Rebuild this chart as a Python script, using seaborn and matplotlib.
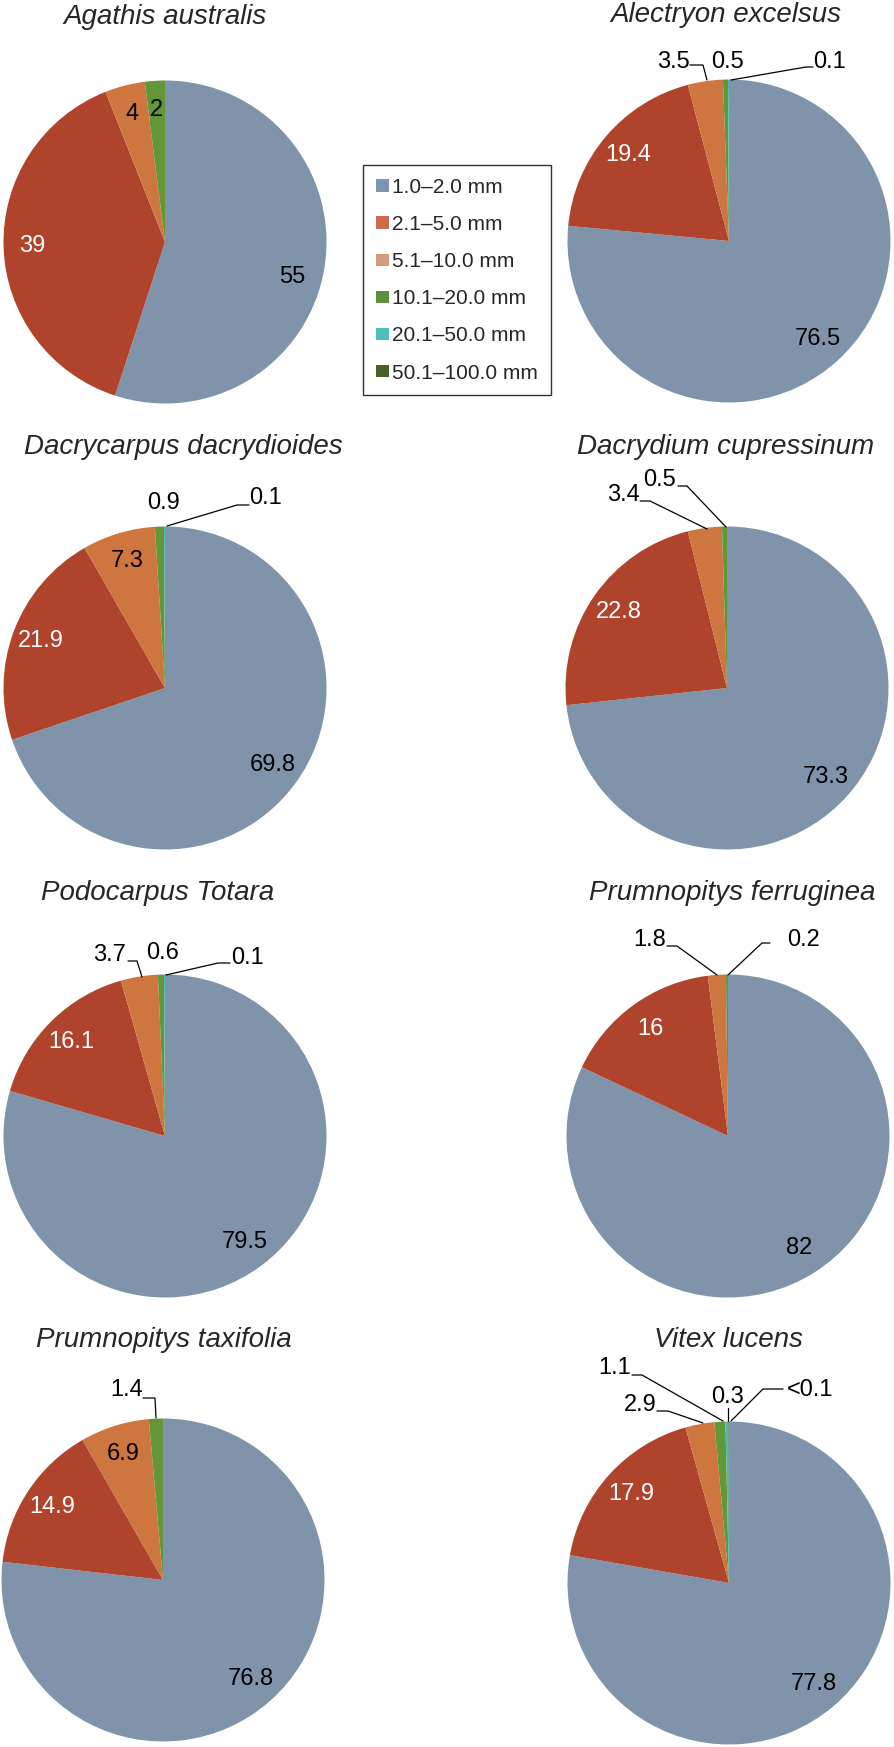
import numpy as np
import matplotlib
matplotlib.use("Agg")
import matplotlib.pyplot as plt
import seaborn as sns
from matplotlib.patches import Patch

sns.set_theme(style="white")
plt.rcParams['font.family'] = ['Liberation Sans', 'DejaVu Sans']

# ---------------- data ----------------
size_classes = ["1.0–2.0 mm", "2.1–5.0 mm", "5.1–10.0 mm",
                "10.1–20.0 mm", "20.1–50.0 mm", "50.1–100.0 mm"]

species = ["Agathis australis", "Alectryon excelsus",
           "Dacrycarpus dacrydioides", "Dacrydium cupressinum",
           "Podocarpus Totara", "Prumnopitys ferruginea",
           "Prumnopitys taxifolia", "Vitex lucens"]

agathis = [55, 39, 4, 2, 0, 0]
alectryon = [76.5, 19.4, 3.5, 0.5, 0.1, 0]
dacrycarpus = [69.8, 21.9, 7.3, 0.9, 0.1, 0]
dacrydium = [73.3, 22.8, 3.4, 0.5, 0, 0]
podocarpus = [79.5, 16.1, 3.7, 0.6, 0.1, 0]
ferruginea = [82, 16, 1.8, 0.2, 0, 0]
taxifolia = [76.8, 14.9, 6.9, 1.4, 0, 0]
vitex = [77.8, 17.9, 2.9, 1.1, 0.3, 0.05]

agathis_lab = ["55", "39", "4", "2", None, None]
alectryon_lab = ["76.5", "19.4", "3.5", "0.5", "0.1", None]
dacrycarpus_lab = ["69.8", "21.9", "7.3", "0.9", "0.1", None]
dacrydium_lab = ["73.3", "22.8", "3.4", "0.5", None, None]
podocarpus_lab = ["79.5", "16.1", "3.7", "0.6", "0.1", None]
ferruginea_lab = ["82", "16", "1.8", "0.2", None, None]
taxifolia_lab = ["76.8", "14.9", "6.9", "1.4", None, None]
vitex_lab = ["77.8", "17.9", "2.9", "1.1", "0.3", "<0.1"]

all_values = [agathis, alectryon, dacrycarpus, dacrydium,
              podocarpus, ferruginea, taxifolia, vitex]
all_labels = [agathis_lab, alectryon_lab, dacrycarpus_lab, dacrydium_lab,
              podocarpus_lab, ferruginea_lab, taxifolia_lab, vitex_lab]

# ---------------- style ----------------
pie_colors = ["#7F94AB", "#B0432B", "#CD763F", "#629638", "#4CB9B6", "#4B5F2E"]
legend_colors = ["#7D95B0", "#CB6B4D", "#D49A7F", "#5E8F3A", "#4FBDB8", "#4B5F2E"]
label_colors = ["black", "white", "black", "black", "black", "black"]

W, H = 894, 1747
R = 161.5
# pie centres (px), title positions (px)
centers = [(165, 242), (729, 241), (165, 688), (727, 688),
           (165, 1136), (728, 1136), (163, 1580), (729, 1583)]
title_x = [165, 726, 183, 726, 158, 732, 164, 728]
title_y = [17, 15, 447, 447, 893, 893, 1340, 1340]
# pixel nudges for a few inner labels: (species, slice) -> (dx, dy)
label_nudge = {(0, 0): (-4, 14)}

# callout labels: slice index -> (text x, text y, leader path) in px
callouts = [
    {},
    {2: (673, 62, [(690, 65), (703, 65), (707, 80)]),
     3: (727, 62, []),
     4: (830, 62, [(813, 67), (806, 67), (731, 80)])},
    {3: (163, 503, []),
     4: (265, 498, [(249, 505), (237, 505), (167, 526)])},
    {2: (623, 495, [(640, 501), (650, 501), (707, 529)]),
     3: (660, 480, [(678, 486), (687, 486), (726, 527)])},
    {2: (110, 955, [(128, 961), (137, 961), (142, 977)]),
     3: (163, 953, []),
     4: (247, 958, [(230, 963), (218, 963), (166, 975)])},
    {2: (650, 940, [(667, 946), (677, 946), (717, 975)]),
     3: (803, 940, [(770, 943), (762, 943), (728, 975)])},
    {3: (127, 1390, [(143, 1398), (155, 1398), (156, 1418)])},
    {2: (640, 1405, [(657, 1411), (668, 1411), (703, 1423)]),
     3: (615, 1368, [(632, 1375), (642, 1375), (723, 1421)]),
     4: (727, 1397, [(728, 1408), (728, 1421)]),
     5: (810, 1390, [(783, 1389), (763, 1389), (731, 1421)])},
]

fig = plt.figure(figsize=(W / 100, H / 100), dpi=100)
fig.patch.set_facecolor("white")

FS = 17
for i, name in enumerate(species):
    cx, cy = centers[i]
    ax = fig.add_axes([(cx - R) / W, 1 - (cy + R) / H, 2 * R / W, 2 * R / H])
    vals = np.array(all_values[i], dtype=float)
    wedges, _ = ax.pie(vals, colors=pie_colors, startangle=90, counterclock=False,
                       radius=1, wedgeprops=dict(linewidth=0))
    ax.set_xlim(-1, 1)
    ax.set_ylim(-1, 1)
    ax.set_aspect("equal")
    ax.axis("off")

    def to_data(px, py):
        return (px - cx) / R, (cy - py) / R

    frac = vals / vals.sum()
    cum = np.cumsum(frac)
    for j, lab in enumerate(all_labels[i]):
        if lab is None:
            continue
        if j in callouts[i]:
            tx, ty, path = callouts[i][j]
            x, y = to_data(tx, ty)
            ax.text(x, y, lab, ha="center", va="center", fontsize=FS,
                    color="black", clip_on=False)
            if path:
                pts = np.array([to_data(p[0], p[1]) for p in path])
                ax.plot(pts[:, 0], pts[:, 1], color="black", lw=0.9,
                        clip_on=False, solid_joinstyle="miter")
        else:
            mid = 90 - 360 * (cum[j] - frac[j] / 2)
            d = 0.82
            x = d * np.cos(np.radians(mid))
            y = d * np.sin(np.radians(mid))
            ndx, ndy = label_nudge.get((i, j), (0, 0))
            x += ndx / R
            y -= ndy / R
            ax.text(x, y, lab, ha="center", va="center", fontsize=FS,
                    color=label_colors[j])

    fig.text(title_x[i] / W, 1 - title_y[i] / H, name, ha="center", va="center",
             fontsize=20, style="italic")

handles = [Patch(facecolor=c, edgecolor="none") for c in legend_colors]
leg = fig.legend(handles, size_classes, loc="upper left",
                 bbox_to_anchor=(363 / W, 1 - 165 / H), borderaxespad=0,
                 frameon=True, fancybox=False, edgecolor="black",
                 fontsize=15, handlelength=0.62, handleheight=0.55,
                 handletextpad=0.15, labelspacing=0.87, borderpad=0.62)
leg.get_frame().set_linewidth(1.0)

fig.savefig("out.png", dpi=100, facecolor="white")
